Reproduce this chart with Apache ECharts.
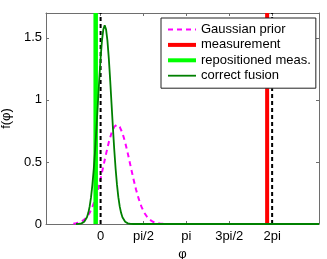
<!DOCTYPE html>
<html><head><meta charset="utf-8">
<script src="https://cdn.jsdelivr.net/npm/echarts@6/dist/echarts.min.js"></script>
<style>html,body{margin:0;padding:0;background:#fff}#c{width:327px;height:259px}</style>
</head><body><div id="c"></div>
<script>
const xTickValues = [0, Math.PI/2, Math.PI, 3*Math.PI/2, 2*Math.PI];
const xTickLabels = ['0','pi/2','pi','3pi/2','2pi'];
const yTickValues = [0, 0.5, 1, 1.5];
const yTickLabels = ['0','0.5','1','1.5'];
const seriesNames = ['Gaussian prior','measurement','repositioned meas.','correct fusion'];

const priorX = [-1.0,-0.9,-0.8,-0.7,-0.6,-0.5,-0.4,-0.3,-0.2,-0.1,0,0.1,0.2,0.3,0.4,0.5,0.6,0.7,0.8,0.9,1.0,1.1,1.2,1.3,1.4,1.5,1.6,1.7,1.8,1.9,2.0,2.1,2.2,2.4,5.3];
const priorY = [0.003,0.006,0.011,0.020,0.035,0.058,0.091,0.138,0.200,0.276,0.366,0.465,0.565,0.658,0.733,0.783,0.8,0.783,0.733,0.658,0.565,0.465,0.366,0.276,0.200,0.138,0.091,0.058,0.035,0.020,0.011,0.006,0.003,0.001,0];

const fusionX = [-0.9,-0.8,-0.7,-0.6,-0.5,-0.45,-0.4,-0.35,-0.3,-0.25,-0.2,-0.15,-0.1,-0.05,0,0.05,0.1,0.15,0.2,0.25,0.3,0.35,0.4,0.45,0.5,0.55,0.6,0.65,0.7,0.75,0.8,0.9,1.0,1.1,1.2,8];
const fusionY = [0,0.001,0.005,0.018,0.054,0.090,0.142,0.216,0.317,0.445,0.600,0.779,0.971,1.162,1.336,1.477,1.568,1.6,1.568,1.477,1.336,1.162,0.971,0.779,0.600,0.445,0.317,0.216,0.142,0.090,0.054,0.018,0.005,0.001,0,0];

const measurementX = 6.1;
const repositionedX = -0.18;
const refLinesX = [0, 2*Math.PI];
const yTop = 1.7;

const pair = (xs, ys) => xs.map((x,i)=>[x, ys[i]]);
const vline = x => [[x,0],[x,yTop]];
const font = 'Liberation Sans, Arial, sans-serif';
const axisCol = '#6e6e6e';
const lab = (vals, labs) => v => { const i = vals.findIndex(t => Math.abs(t-v) < 1e-6); return i >= 0 ? labs[i] : ''; };

const styles = [
  {color:'#ff00ff', width:2, type:[5,4]},
  {color:'#ff0000', width:4, type:'solid'},
  {color:'#00ff00', width:4.5, type:'solid'},
  {color:'#008000', width:1.8, type:'solid'}
];

const chart = echarts.init(document.getElementById('c'), null, {renderer:'canvas'});
chart.setOption({
  animation:false,
  textStyle:{fontFamily:font},
  grid:{left:46, right:8, top:13, bottom:35, containLabel:false, outerBoundsMode:'none'},
  legend:{
    orient:'vertical', left:161, top:18, width:153,
    data:seriesNames.map((n,i)=>({name:n, lineStyle:{color:styles[i].color, width:Math.min(styles[i].width,4), type:styles[i].type}})),
    backgroundColor:'#fff', borderColor:'#222', borderWidth:1,
    padding:[5,5,6,5], itemWidth:28, itemHeight:14, itemGap:2.4,
    itemStyle:{opacity:0},
    textStyle:{fontFamily:font, fontSize:13, color:'#000'}
  },
  xAxis:[{
    type:'value', min:-2, max:8, position:'bottom',
    axisLine:{show:true, onZero:false, lineStyle:{color:axisCol, width:1}},
    axisTick:{show:true, inside:true, length:3, customValues:xTickValues, lineStyle:{color:axisCol}},
    axisLabel:{show:true, customValues:xTickValues, formatter:lab(xTickValues,xTickLabels), color:'#000', fontSize:13, fontFamily:font, margin:6},
    splitLine:{show:false},
    name:'φ', nameLocation:'middle', nameGap:21, nameTextStyle:{color:'#000', fontSize:13, fontFamily:font}
  },{
    type:'value', min:-2, max:8, position:'top',
    axisLine:{show:true, onZero:false, lineStyle:{color:axisCol, width:1}},
    axisTick:{show:true, inside:true, length:3, customValues:xTickValues, lineStyle:{color:axisCol}},
    axisLabel:{show:false}, splitLine:{show:false}
  }],
  yAxis:[{
    type:'value', min:0, max:yTop, position:'left',
    axisLine:{show:true, onZero:false, lineStyle:{color:axisCol, width:1}},
    axisTick:{show:true, inside:true, length:3, customValues:yTickValues, lineStyle:{color:axisCol}},
    axisLabel:{show:true, customValues:yTickValues, formatter:lab(yTickValues,yTickLabels), color:'#000', fontSize:13, fontFamily:font, margin:4},
    splitLine:{show:false},
    name:'f(φ)', nameLocation:'middle', nameGap:26, nameRotate:90, nameTextStyle:{color:'#000', fontSize:13, fontFamily:font}
  },{
    type:'value', min:0, max:yTop, position:'right',
    axisLine:{show:true, onZero:false, lineStyle:{color:axisCol, width:1}},
    axisTick:{show:true, inside:true, length:3, customValues:yTickValues, lineStyle:{color:axisCol}},
    axisLabel:{show:false}, splitLine:{show:false}
  }],
  series:[
    {name:seriesNames[0], type:'line', data:pair(priorX,priorY), showSymbol:false, symbol:'none',
     lineStyle:styles[0], itemStyle:{color:styles[0].color}, z:2},
    {name:seriesNames[1], type:'line', data:vline(measurementX), showSymbol:false, symbol:'none',
     lineStyle:styles[1], itemStyle:{color:styles[1].color}, z:2},
    {name:seriesNames[2], type:'line', data:vline(repositionedX), showSymbol:false, symbol:'none',
     lineStyle:styles[2], itemStyle:{color:styles[2].color}, z:2},
    {name:'ref0', type:'line', data:vline(refLinesX[0]), showSymbol:false, symbol:'none',
     lineStyle:{color:'#000', width:2, type:[4,3]}, z:3},
    {name:'ref1', type:'line', data:vline(refLinesX[1]), showSymbol:false, symbol:'none',
     lineStyle:{color:'#000', width:2, type:[4,3]}, z:3},
    {name:seriesNames[3], type:'line', data:pair(fusionX,fusionY), showSymbol:false, symbol:'none',
     lineStyle:styles[3], itemStyle:{color:styles[3].color}, z:4}
  ]
});
</script></body></html>
